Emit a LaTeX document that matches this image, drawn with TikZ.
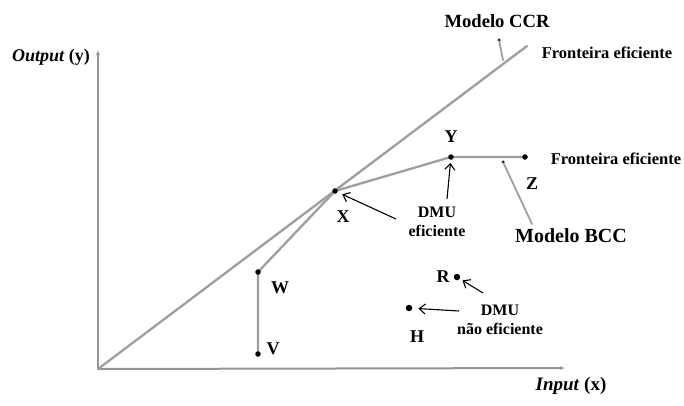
\documentclass[tikz,border=0pt]{standalone}
\usepackage{fontspec}
\setmainfont{Liberation Serif}
\usetikzlibrary{arrows.meta}
\begin{document}
\begin{tikzpicture}[x=1pt,y=-1pt,
  curve/.style={draw=black!38, line width=2.3pt, line cap=round},
  axisline/.style={draw=black!42, line width=2pt},
  pt/.style={circle, fill=black, inner sep=0pt, minimum size=5.5pt},
  bigpt/.style={circle, fill=black, inner sep=0pt, minimum size=6.5pt},
  tinypt/.style={circle, fill=black!80, inner sep=0pt, minimum size=3.5pt},
  lbl/.style={font=\bfseries\fontsize{18}{18}\selectfont, inner sep=1pt},
  small/.style={font=\bfseries\fontsize{16}{19}\selectfont, inner sep=1pt, align=center},
  ptr/.style={draw=black, line width=1.1pt, -{Straight Barb[length=6pt,width=10pt]}},
  tip/.style={-{Latex[length=5pt,width=4pt]}},
]
\useasboundingbox (0,0) rectangle (684,405);
% coordinates
\coordinate (O) at (98,369);
\coordinate (ytop) at (98,50);
\coordinate (xend) at (565,368);
\coordinate (ccrend) at (527,46);
\coordinate (cX) at (335,191);
\coordinate (cY) at (451,157);
\coordinate (cZ) at (525,157);
\coordinate (cW) at (258,272);
\coordinate (cV) at (258,354);
\coordinate (ccrfoot) at (503,60);
\coordinate (bccfoot) at (532,224);
% axes
\draw[axisline, tip] (O) -- (ytop);
\draw[axisline, tip] (O) -- (xend);
% frontiers
\draw[curve] (O) -- (ccrend);
\draw[curve] (cV) -- (cW) -- (cX) -- (cY) -- (cZ);
% pointers of models
\node[tinypt] (ccrdot) at (499,40) {};
\draw[curve, line width=1.8pt] (ccrdot) -- (ccrfoot);
\node[tinypt] (bccdot) at (503,162) {};
\draw[curve, line width=1.8pt] (bccdot) -- (bccfoot);
% points
\node[pt] (X) at (cX) {};
\node[pt] (Y) at (cY) {};
\node[pt] (Z) at (cZ) {};
\node[pt] (W) at (cW) {};
\node[pt] (V) at (cV) {};
\node[bigpt] (R) at (457,277) {};
\node[bigpt] (H) at (409,308) {};
% labels
\node[lbl, font=\bfseries\fontsize{18.6}{19}\selectfont] (ccrlbl) at (497,21) {Modelo CCR};
\node[lbl, font=\bfseries\fontsize{16.5}{17}\selectfont] (fe1) at (607,53) {Fronteira eficiente};
\node[lbl, font=\bfseries\fontsize{16.5}{17}\selectfont] (fe2) at (616,159) {Fronteira eficiente};
\node[lbl] (outlbl) at (51,57) {\textit{Output} (y)};
\node[lbl, font=\bfseries\fontsize{19}{19}\selectfont] (inlbl) at (571,386) {\textit{Input} (x)};
\node[lbl] (Ylbl) at (451,137) {Y};
\node[lbl] (Zlbl) at (532,184) {Z};
\node[lbl] (Xlbl) at (343,217) {X};
\node[lbl] (Wlbl) at (280,288) {W};
\node[lbl] (Vlbl) at (273,349) {V};
\node[lbl] (Rlbl) at (443,277) {R};
\node[lbl] (Hlbl) at (417,337) {H};
\node[lbl, font=\bfseries\fontsize{20}{20}\selectfont] (bcclbl) at (571,236) {Modelo BCC};
\node[small] (dmu1) at (437,222) {DMU\\eficiente};
\node[small] (dmu2) at (500,320) {DMU\\não eficiente};
% arrows
\coordinate (a1) at (447,199);
\coordinate (a2) at (396,219);
\coordinate (a3) at (483,293);
\coordinate (a4) at (459,311);
\draw[ptr, shorten >=3pt] (a1) -- (Y);
\draw[ptr, shorten >=5pt] (a2) -- (X);
\draw[ptr, shorten >=3pt] (a3) -- (R);
\draw[ptr, shorten >=6pt] (a4) -- (H);
\end{tikzpicture}
\end{document}
